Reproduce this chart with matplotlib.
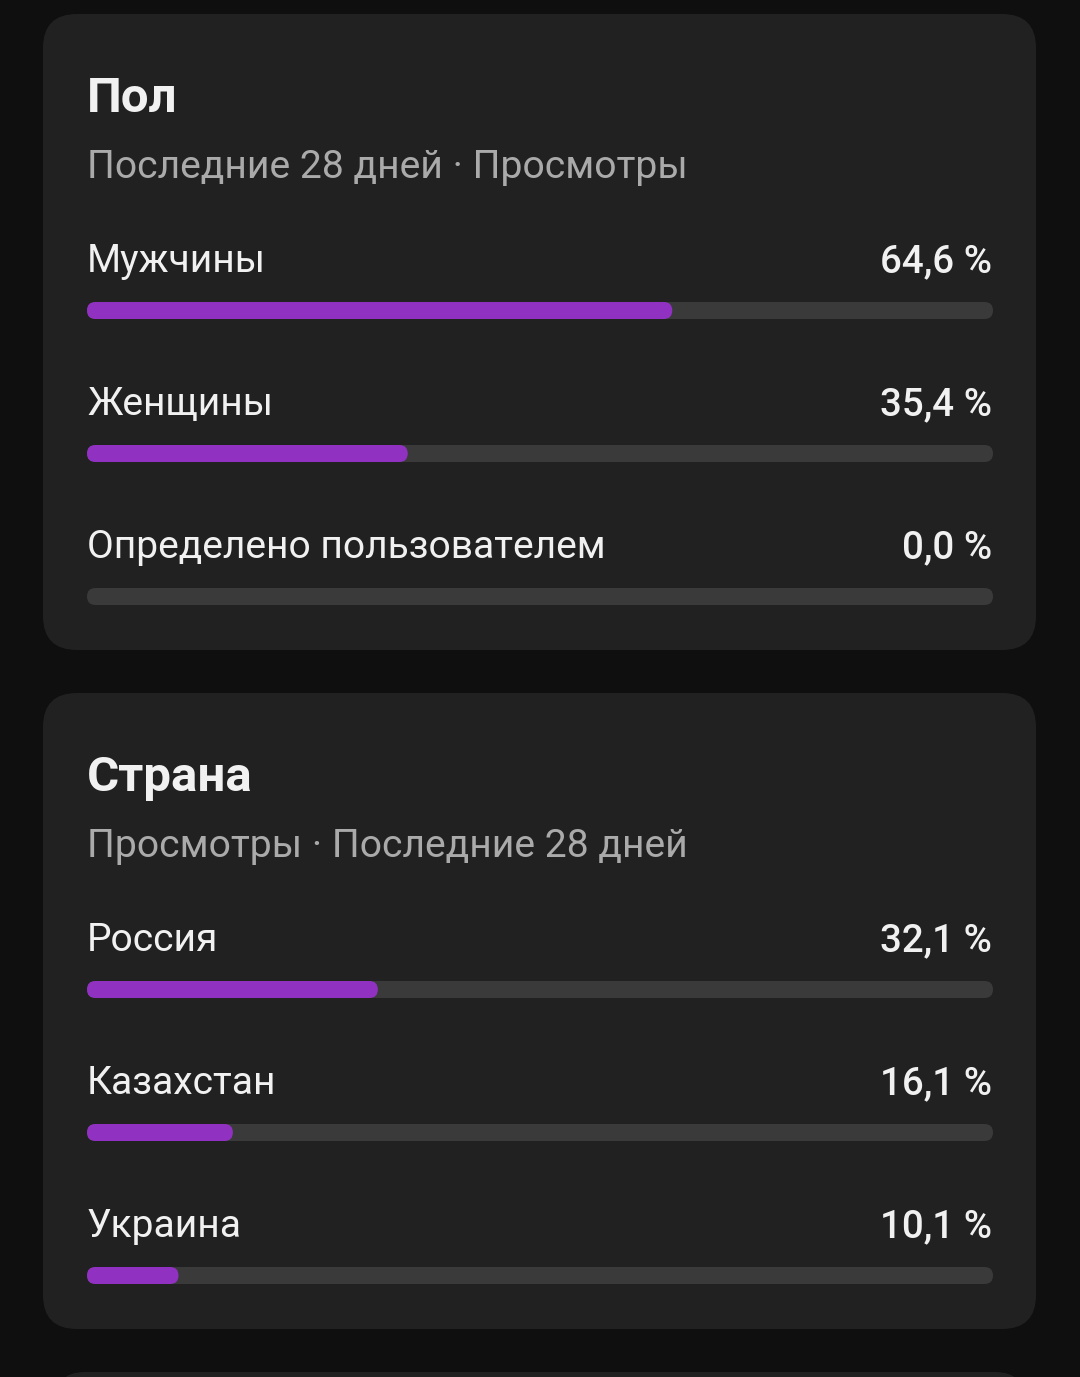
import matplotlib.pyplot as plt
from matplotlib.patches import FancyBboxPatch

# data
gender_labels = ['Мужчины', 'Женщины', 'Определено пользователем']
gender_values = [64.6, 35.4, 0.0]
country_labels = ['Россия', 'Казахстан', 'Украина']
country_values = [32.1, 16.1, 10.1]

cards = [
    ('Пол', 'Последние 28 дней · Просмотры', gender_labels, gender_values),
    ('Страна', 'Просмотры · Последние 28 дней', country_labels, country_values),
]

BG = '#0f0f0f'
CARD = '#212121'
TRACK = '#3a3a3a'
PURPLE = '#9131c1'
WHITE = '#f1f1f1'
GRAY = '#aaaaaa'

W, H = 1080, 1377
fig = plt.figure(figsize=(W / 100, H / 100), dpi=100, facecolor=BG)
ax = fig.add_axes([0, 0, 1, 1])
ax.set_xlim(0, W)
ax.set_ylim(H, 0)
ax.axis('off')
ax.set_facecolor(BG)

FONT = ['Roboto', 'DejaVu Sans']
track_x0, track_x1 = 87, 993
track_w = track_x1 - track_x0
bar_h = 17


def rounded(x, y, w, h, r, color):
    p = FancyBboxPatch((x, y), w, h,
                       boxstyle=f'round,pad=0,rounding_size={r}',
                       linewidth=0, facecolor=color)
    ax.add_patch(p)


def draw_card(top, title, subtitle, labels, values):
    rounded(43, top, 993, 636, 34, CARD)
    ax.text(87, top + 98, title, color=WHITE, fontsize=35.5, fontweight='bold',
            family=FONT, va='baseline', ha='left')
    ax.text(87, top + 164, subtitle, color=GRAY, fontsize=28.2,
            family=FONT, va='baseline', ha='left')
    for i, (lab, val) in enumerate(zip(labels, values)):
        base = top + 258 + i * 143
        ax.text(87, base, lab, color=WHITE, fontsize=28.1,
                family=FONT, va='baseline', ha='left')
        ax.text(992, base, f'{val:.1f} %'.replace('.', ','), color=WHITE,
                fontsize=27.7, fontweight='medium', family=FONT,
                va='baseline', ha='right')
        bar_y = top + 288 + i * 143
        rounded(track_x0, bar_y, track_w, bar_h, bar_h / 2, TRACK)
        if val > 0:
            rounded(track_x0, bar_y, track_w * val / 100, bar_h, bar_h / 2, PURPLE)


for k, (title, subtitle, labels, values) in enumerate(cards):
    draw_card(14 + k * 679, title, subtitle, labels, values)

# start of the next card at the bottom edge
rounded(55, 1372, 970, 80, 30, CARD)

fig.savefig('out.png', dpi=100, facecolor=BG)
